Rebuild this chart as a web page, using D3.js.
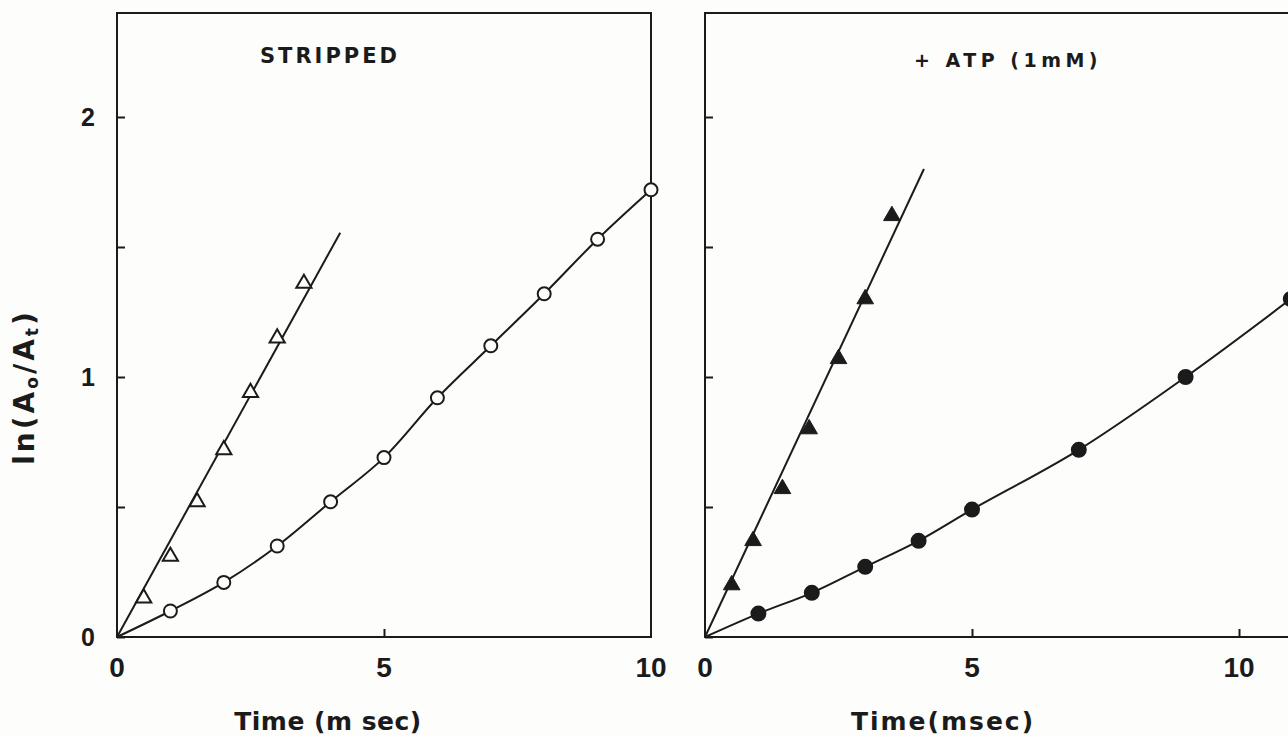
<!DOCTYPE html>
<html>
<head>
<meta charset="utf-8">
<script src="https://cdn.jsdelivr.net/npm/d3@7"></script>
<style>
  body { margin: 0; background: #fdfdfb; }
  svg { display: block; }
  text { font-family: "Liberation Sans", Arial, sans-serif; font-weight: bold; fill: #1b1b1b; }
  .wide { font-family: "DejaVu Sans", sans-serif; }
</style>
</head>
<body>
<svg id="chart" width="1288" height="737"></svg>
<script>
// values
const yTicks = [0, 0.5, 1, 1.5, 2];
const yLabels = [0, 1, 2];

// left panel: stripped
const stripTriX = [0.5, 1, 1.5, 2, 2.5, 3, 3.5];
const stripTriY = [0.15, 0.31, 0.52, 0.72, 0.94, 1.15, 1.36];
const stripFitX = [0, 4.18];
const stripFitY = [0, 1.555];
const stripCircX = [1, 2, 3, 4, 5, 6, 7, 8, 9, 10];
const stripCircY = [0.10, 0.21, 0.35, 0.52, 0.69, 0.92, 1.12, 1.32, 1.53, 1.72];

// right panel: + ATP (1mM)
const atpTriX = [0.5, 0.9, 1.45, 1.95, 2.5, 3, 3.5];
const atpTriY = [0.2, 0.37, 0.57, 0.8, 1.07, 1.3, 1.62];
const atpFitX = [0, 4.1];
const atpFitY = [0, 1.8];
const atpCircX = [1, 2, 3, 4, 5, 7, 9, 10.97];
const atpCircY = [0.09, 0.17, 0.27, 0.37, 0.49, 0.72, 1.0, 1.3];

const svg = d3.select('#chart');
const ink = '#1b1b1b';
const paper = '#fdfdfb';

function zip(xs, ys) { return xs.map((x, i) => [x, ys[i]]); }

function panel(o) {
   const x = d3.scaleLinear().domain(o.xDomain).range([o.left, o.left + (o.xDomain[1] - o.xDomain[0]) * 53.4]);
   const y = d3.scaleLinear().domain([0, 2.4]).range([637, 13]);
   const g = svg.append('g');

   // frame
   g.append('rect')
      .attr('x', x(0)).attr('y', y(2.4))
      .attr('width', x(o.xDomain[1]) - x(0)).attr('height', y(0) - y(2.4))
      .attr('fill', 'none').attr('stroke', ink).attr('stroke-width', 2);

   // y ticks, pointing inward
   g.append('g').attr('transform', `translate(${x(0)},0)`)
      .call(d3.axisRight(y).tickValues(yTicks).tickSize(8).tickFormat(''))
      .call(a => a.select('.domain').remove())
      .selectAll('line').attr('stroke', ink).attr('stroke-width', 2);

   // x ticks, pointing inward
   g.append('g').attr('transform', `translate(0,${y(0)})`)
      .call(d3.axisTop(x).tickValues(o.xTicks).tickSize(8).tickFormat(''))
      .call(a => a.select('.domain').remove())
      .selectAll('line').attr('stroke', ink).attr('stroke-width', 2);

   // x tick labels
   g.selectAll('.xl').data(o.xLabels).enter().append('text')
      .attr('x', d => x(d)).attr('y', 677)
      .attr('text-anchor', 'middle').style('font-size', '28px')
      .text(d => d);

   // y tick labels
   if (o.yLabels) {
      g.selectAll('.yl').data(o.yLabels).enter().append('text')
         .attr('x', x(0) - 29).attr('y', d => y(d) + 9)
         .attr('text-anchor', 'middle').style('font-size', '25px')
         .text(d => d);
   }

   // fitted straight line
   g.append('path')
      .datum(zip(o.fitX, o.fitY))
      .attr('d', d3.line().x(d => x(d[0])).y(d => y(d[1])))
      .attr('fill', 'none').attr('stroke', ink).attr('stroke-width', 2);

   // smooth curve through circles, from origin
   g.append('path')
      .datum([[0, 0]].concat(zip(o.circX, o.circY)))
      .attr('d', d3.line().x(d => x(d[0])).y(d => y(d[1])).curve(d3.curveCatmullRom.alpha(0.5)))
      .attr('fill', 'none').attr('stroke', ink).attr('stroke-width', 2);

   // triangles
   g.selectAll('.tri').data(zip(o.triX, o.triY)).enter().append('path')
      .attr('d', d3.symbol().type(d3.symbolTriangle).size(o.filled ? 120 : 100))
      .attr('transform', d => `translate(${x(d[0])},${y(d[1])})`)
      .attr('fill', o.filled ? ink : paper)
      .attr('stroke', ink).attr('stroke-width', o.filled ? 1 : 2);

   // circles
   g.selectAll('.circ').data(zip(o.circX, o.circY)).enter().append('circle')
      .attr('cx', d => x(d[0])).attr('cy', d => y(d[1]))
      .attr('r', o.filled ? 7 : 6.5)
      .attr('fill', o.filled ? ink : paper)
      .attr('stroke', ink).attr('stroke-width', 2);

   // panel title
   g.append('text').attr('class', 'wide')
      .attr('x', o.titleX).attr('y', o.titleY)
      .attr('text-anchor', 'middle')
      .style('font-size', o.titleSize).style('letter-spacing', o.titleSpacing)
      .text(o.title);

   // x axis title
   g.append('text').attr('class', 'wide')
      .attr('x', o.xTitleX).attr('y', 730)
      .attr('text-anchor', 'middle')
      .style('font-size', '25px').style('letter-spacing', o.xTitleSpacing)
      .text(o.xTitle);
}

panel({
   left: 117, xDomain: [0, 10], xTicks: [5], xLabels: [0, 5, 10], yLabels: yLabels,
   triX: stripTriX, triY: stripTriY, fitX: stripFitX, fitY: stripFitY,
   circX: stripCircX, circY: stripCircY, filled: false,
   title: 'STRIPPED', titleX: 330, titleY: 63, titleSize: '21px', titleSpacing: '3px',
   xTitle: 'Time (m sec)', xTitleX: 328, xTitleSpacing: '0.5px'
});

panel({
   left: 705, xDomain: [0, 11.2], xTicks: [5, 10], xLabels: [0, 5, 10], yLabels: null,
   triX: atpTriX, triY: atpTriY, fitX: atpFitX, fitY: atpFitY,
   circX: atpCircX, circY: atpCircY, filled: true,
   title: '+ ATP (1mM)', titleX: 1008, titleY: 67, titleSize: '19px', titleSpacing: '4.5px',
   xTitle: 'Time(msec)', xTitleX: 943, xTitleSpacing: '2px'
});

// y axis title, rotated
const yt = svg.append('text').attr('class', 'wide')
   .attr('transform', 'translate(34,387) rotate(-90)')
   .attr('text-anchor', 'middle')
   .style('font-size', '28px').style('letter-spacing', '3px');
yt.append('tspan').text('ln(A');
yt.append('tspan').attr('dy', 4).style('font-size', '17px').text('o');
yt.append('tspan').attr('dy', -4).text('/A');
yt.append('tspan').attr('dy', 4).style('font-size', '17px').text('t');
yt.append('tspan').attr('dy', -4).text(')');
</script>
</body>
</html>
